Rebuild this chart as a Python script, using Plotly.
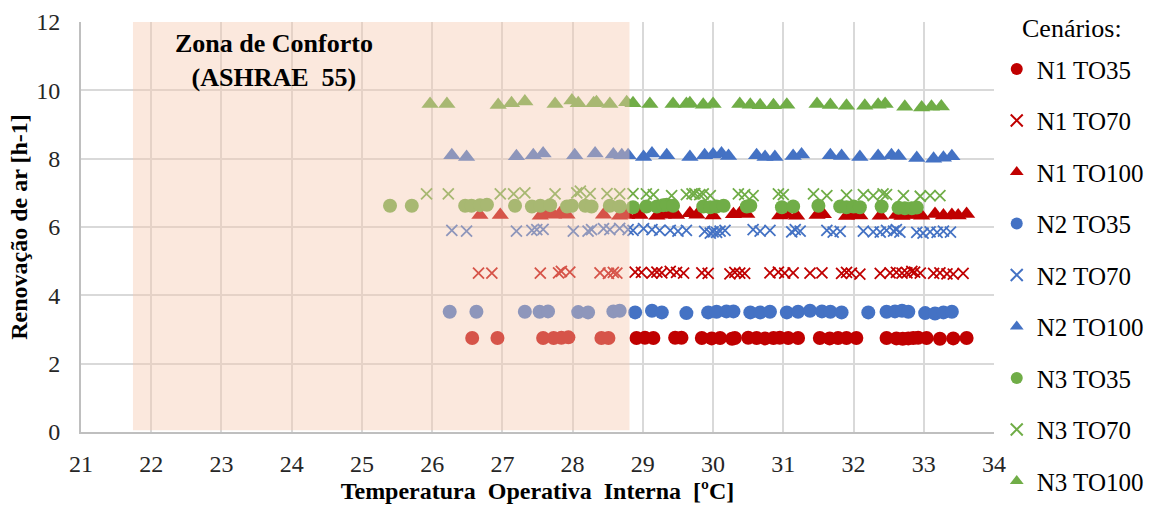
import plotly.graph_objects as go

# ---- data: indoor operative temperature [ºC] vs air change rate [h-1] ----
n1_to35_x = [26.57, 26.93, 27.58, 27.73, 27.84, 27.94, 28.41, 28.51, 28.91, 29.03,
             29.15, 29.46, 29.55, 29.84, 29.98, 30.10, 30.27, 30.31, 30.50, 30.62,
             30.74, 30.86, 30.95, 31.07, 31.21, 31.52, 31.66, 31.78, 31.90, 32.04,
             32.47, 32.61, 32.70, 32.78, 32.85, 32.92, 33.04, 33.23, 33.42, 33.61]
n1_to35_y = [2.75, 2.75, 2.75, 2.75, 2.76, 2.77, 2.75, 2.75, 2.75, 2.76,
             2.75, 2.76, 2.76, 2.75, 2.74, 2.75, 2.73, 2.75, 2.76, 2.75,
             2.74, 2.75, 2.76, 2.75, 2.75, 2.75, 2.74, 2.75, 2.75, 2.75,
             2.75, 2.74, 2.73, 2.74, 2.75, 2.76, 2.75, 2.73, 2.74, 2.75]

n1_to70_x = [26.66, 26.85, 27.54, 27.80, 27.84, 27.96, 28.39, 28.51, 28.58, 28.63,
             28.89, 28.98, 29.13, 29.20, 29.27, 29.39, 29.48, 29.58, 29.84, 29.93,
             30.24, 30.31, 30.38, 30.45, 30.81, 30.93, 31.02, 31.14, 31.38, 31.55,
             31.83, 31.90, 31.97, 32.09, 32.38, 32.52, 32.61, 32.69, 32.76, 32.83,
             32.87, 32.95, 33.14, 33.23, 33.33, 33.42, 33.56]
n1_to70_y = [4.65, 4.65, 4.65, 4.66, 4.70, 4.68, 4.66, 4.64, 4.67, 4.65,
             4.68, 4.67, 4.65, 4.68, 4.66, 4.70, 4.67, 4.65, 4.66, 4.64,
             4.63, 4.67, 4.65, 4.64, 4.66, 4.68, 4.65, 4.66, 4.65, 4.66,
             4.64, 4.67, 4.65, 4.62, 4.64, 4.66, 4.67, 4.65, 4.66, 4.70,
             4.68, 4.65, 4.64, 4.66, 4.63, 4.62, 4.64]

n1_to100_x = [26.68, 26.97, 27.54, 27.63, 27.73, 27.82, 27.92, 28.44, 28.67, 28.77,
              28.94, 28.96, 29.20, 29.29, 29.39, 29.48, 29.67, 29.77, 30.00, 30.29,
              30.38, 30.48, 30.95, 31.05, 31.19, 31.48, 31.57, 31.90, 31.97, 32.09,
              32.38, 32.61, 32.69, 32.80, 32.90, 32.97, 33.16, 33.28, 33.40, 33.49,
              33.61]
n1_to100_y = [6.35, 6.35, 6.33, 6.38, 6.36, 6.40, 6.36, 6.36, 6.33, 6.35,
              6.38, 6.35, 6.33, 6.36, 6.38, 6.35, 6.40, 6.36, 6.34, 6.37,
              6.40, 6.38, 6.34, 6.36, 6.33, 6.35, 6.37, 6.32, 6.35, 6.34,
              6.33, 6.35, 6.32, 6.36, 6.35, 6.33, 6.38, 6.34, 6.35, 6.34,
              6.38]

n2_to35_x = [26.25, 26.63, 27.32, 27.53, 27.65, 28.08, 28.22, 28.58, 28.67, 28.89,
             29.13, 29.27, 29.62, 29.93, 30.05, 30.19, 30.29, 30.53, 30.67, 30.81,
             31.05, 31.21, 31.38, 31.55, 31.67, 31.83, 32.21, 32.47, 32.59, 32.69,
             32.78, 33.02, 33.16, 33.28, 33.40]
n2_to35_y = [3.52, 3.52, 3.52, 3.52, 3.53, 3.51, 3.50, 3.53, 3.55, 3.50,
             3.55, 3.50, 3.48, 3.50, 3.52, 3.53, 3.53, 3.50, 3.50, 3.52,
             3.50, 3.52, 3.55, 3.53, 3.52, 3.50, 3.50, 3.52, 3.53, 3.55,
             3.52, 3.48, 3.47, 3.50, 3.52]

n2_to70_x = [26.28, 26.49, 27.20, 27.42, 27.49, 27.58, 28.01, 28.22, 28.27, 28.44,
             28.53, 28.67, 28.79, 28.86, 29.01, 29.13, 29.24, 29.39, 29.50, 29.62,
             29.88, 29.96, 30.00, 30.05, 30.10, 30.17, 30.57, 30.67, 30.81, 31.12,
             31.17, 31.24, 31.62, 31.71, 31.81, 32.14, 32.28, 32.38, 32.47, 32.57,
             32.61, 32.66, 32.90, 32.99, 33.09, 33.19, 33.28, 33.38]
n2_to70_y = [5.90, 5.88, 5.88, 5.90, 5.92, 5.93, 5.88, 5.88, 5.92, 5.95,
             5.92, 5.96, 5.92, 5.90, 5.95, 5.92, 5.90, 5.90, 5.88, 5.90,
             5.87, 5.82, 5.86, 5.84, 5.88, 5.90, 5.92, 5.88, 5.90, 5.86,
             5.92, 5.88, 5.90, 5.85, 5.87, 5.88, 5.86, 5.85, 5.90, 5.88,
             5.92, 5.85, 5.84, 5.82, 5.86, 5.84, 5.88, 5.85]

n2_to100_x = [26.28, 26.49, 27.20, 27.44, 27.58, 28.03, 28.32, 28.58, 28.70, 28.79,
              29.01, 29.13, 29.34, 29.67, 29.88, 30.00, 30.12, 30.22, 30.62, 30.74,
              30.88, 31.14, 31.26, 31.67, 31.83, 32.09, 32.35, 32.54, 32.64, 32.90,
              33.14, 33.28, 33.40]
n2_to100_y = [8.10, 8.05, 8.07, 8.10, 8.15, 8.10, 8.15, 8.12, 8.10, 8.10,
              8.05, 8.15, 8.10, 8.05, 8.10, 8.12, 8.15, 8.08, 8.10, 8.05,
              8.05, 8.08, 8.12, 8.10, 8.08, 8.05, 8.08, 8.10, 8.08, 8.02,
              8.00, 8.03, 8.07]

n3_to35_x = [25.40, 25.71, 26.47, 26.56, 26.68, 26.78, 27.18, 27.42, 27.54, 27.68,
             27.92, 27.99, 28.18, 28.27, 28.53, 28.67, 28.86, 29.05, 29.20, 29.29,
             29.34, 29.43, 29.86, 29.96, 30.05, 30.15, 30.48, 30.53, 30.98, 31.14,
             31.50, 31.81, 31.90, 32.00, 32.09, 32.40, 32.64, 32.73, 32.83, 32.90]
n3_to35_y = [6.62, 6.62, 6.62, 6.62, 6.64, 6.65, 6.62, 6.60, 6.62, 6.64,
             6.60, 6.62, 6.62, 6.60, 6.62, 6.60, 6.58, 6.60, 6.60, 6.64,
             6.65, 6.62, 6.60, 6.58, 6.60, 6.62, 6.60, 6.62, 6.58, 6.60,
             6.62, 6.60, 6.58, 6.60, 6.58, 6.60, 6.56, 6.55, 6.55, 6.57]

n3_to70_x = [25.92, 26.23, 26.97, 27.16, 27.32, 27.75, 28.06, 28.11, 28.25, 28.49,
             28.67, 28.86, 29.05, 29.15, 29.41, 29.62, 29.70, 29.74, 29.81, 29.86,
             29.96, 30.36, 30.45, 30.57, 30.93, 31.00, 31.43, 31.62, 31.90, 32.14,
             32.28, 32.42, 32.47, 32.71, 32.95, 33.09, 33.23]
n3_to70_y = [6.97, 6.97, 6.97, 6.97, 7.00, 6.97, 7.00, 7.05, 6.98, 6.98,
             6.97, 6.98, 6.97, 6.95, 6.92, 6.95, 6.97, 6.98, 6.95, 6.97,
             6.92, 6.97, 6.95, 6.92, 6.97, 6.95, 6.97, 6.92, 6.93, 6.95,
             6.92, 6.97, 6.95, 6.92, 6.90, 6.92, 6.92]

n3_to100_x = [25.97, 26.21, 26.94, 27.13, 27.32, 27.75, 27.99, 28.08, 28.30, 28.34,
              28.53, 28.77, 28.86, 29.10, 29.43, 29.62, 29.67, 29.86, 30.00, 30.38,
              30.53, 30.67, 30.86, 31.05, 31.48, 31.67, 31.90, 32.16, 32.35, 32.45,
              32.73, 32.97, 33.11, 33.25]
n3_to100_y = [9.60, 9.60, 9.57, 9.62, 9.67, 9.60, 9.70, 9.62, 9.62, 9.65,
              9.60, 9.65, 9.62, 9.60, 9.60, 9.60, 9.62, 9.58, 9.60, 9.60,
              9.58, 9.56, 9.56, 9.58, 9.60, 9.57, 9.55, 9.55, 9.58, 9.60,
              9.52, 9.50, 9.52, 9.53]

comfort_zone = [21.74, 28.81]          # ASHRAE 55 adaptive comfort band, ºC
x_ticks = list(range(21, 35))
y_ticks = list(range(0, 13, 2))

RED, BLUE, GREEN = "#C00000", "#4472C4", "#70AD47"
SERIF = "Liberation Serif, Times New Roman, serif"

series = [
    ("N1 TO35", n1_to35_x, n1_to35_y, RED, "circle"),
    ("N1 TO70", n1_to70_x, n1_to70_y, RED, "x-thin"),
    ("N1 TO100", n1_to100_x, n1_to100_y, RED, "triangle-up"),
    ("N2 TO35", n2_to35_x, n2_to35_y, BLUE, "circle"),
    ("N2 TO70", n2_to70_x, n2_to70_y, BLUE, "x-thin"),
    ("N2 TO100", n2_to100_x, n2_to100_y, BLUE, "triangle-up"),
    ("N3 TO35", n3_to35_x, n3_to35_y, GREEN, "circle"),
    ("N3 TO70", n3_to70_x, n3_to70_y, GREEN, "x-thin"),
    ("N3 TO100", n3_to100_x, n3_to100_y, GREEN, "triangle-up"),
]

fig = go.Figure()
for name, xs, ys, color, symbol in series:
    if symbol == "x-thin":
        marker = dict(symbol=symbol, size=11, line=dict(color=color, width=1.8))
    elif symbol == "circle":
        marker = dict(symbol=symbol, size=14, color=color)
    else:
        marker = dict(symbol=symbol, size=15, color=color)
    fig.add_trace(go.Scatter(
        x=xs, y=ys, mode="markers", name=name, legendgroup=name,
        marker=marker,
    ))

# translucent comfort band drawn over the markers
fig.add_shape(
    type="rect", xref="x", yref="y",
    x0=comfort_zone[0], x1=comfort_zone[1], y0=0.05, y1=12,
    fillcolor="rgba(245,200,175,0.42)", line=dict(width=0), layer="above",
)

fig.add_annotation(
    x=23.75, y=10.88, xref="x", yref="y",
    text="<b>Zona de Conforto</b><br><b>(ASHRAE  55)</b>", showarrow=False,
    font=dict(family=SERIF, size=26, color="#000000"), align="center",
)

fig.add_annotation(
    x=1.028, y=0.985, xref="paper", yref="paper", xanchor="left", yanchor="middle",
    text="Cenários:", showarrow=False,
    font=dict(family=SERIF, size=26, color="#000000"),
)

fig.update_layout(
    width=1151, height=506,
    margin=dict(l=81, r=157, t=22, b=74, autoexpand=False),
    paper_bgcolor="white", plot_bgcolor="white",
    font=dict(family=SERIF, color="#000000"),
    showlegend=True,
    legend=dict(
        x=1.003, y=0.941, xanchor="left", yanchor="top",
        font=dict(family=SERIF, size=25, color="#000000"),
        tracegroupgap=16, itemsizing="constant", itemwidth=30,
        bgcolor="rgba(0,0,0,0)", maxheight=490,
    ),
    xaxis=dict(
        range=[21, 34], tickvals=x_ticks, showgrid=True, gridcolor="#d9d9d9",
        gridwidth=2, showline=True, linecolor="#bfbfbf", linewidth=2,
        zeroline=False, ticks="", ticklabelstandoff=9, automargin=False,
        tickfont=dict(family=SERIF, size=24, color="#262626"),
        title=dict(text="<b>Temperatura  Operativa  Interna  [ºC]</b>",
                   font=dict(family=SERIF, size=24, color="#000000"), standoff=6),
    ),
    yaxis=dict(
        range=[0, 12], tickvals=y_ticks, showgrid=True, gridcolor="#d9d9d9",
        gridwidth=2, showline=True, linecolor="#bfbfbf", linewidth=2,
        zeroline=False, ticks="", ticklabelstandoff=14, automargin=False,
        tickfont=dict(family=SERIF, size=24, color="#262626"),
        title=dict(text="<b>Renovação de ar [h-1]</b>",
                   font=dict(family=SERIF, size=24, color="#000000"), standoff=2),
    ),
)

fig.write_html("out.html")
